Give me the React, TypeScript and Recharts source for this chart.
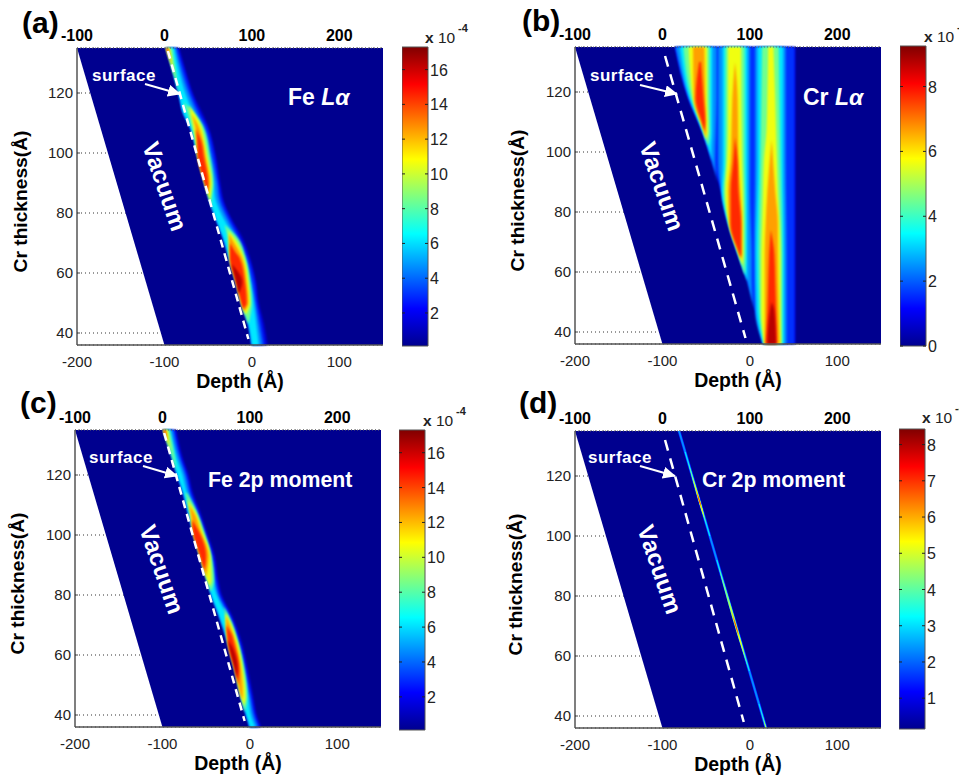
import React from 'react';
import { ComposedChart, BarChart, Area, Bar, XAxis, YAxis, CartesianGrid, ReferenceLine } from 'recharts';

const FONT = '"Liberation Sans", Arial, sans-serif';
// contour colours, low to high
const LEVELS = ['#0000d8', '#0030ff', '#0090ff', '#00e8ff', '#70ff90', '#f0ff10', '#ffa000', '#ff2800', '#b80000'];
const BG = '#00008f';
const JET = [[0, '#00008f'], [0.125, '#0000ff'], [0.375, '#00ffff'], [0.625, '#ffff00'], [0.875, '#ff0000'], [1, '#800000']];

const bottomTicks = [-200, -100, 0, 100];
const topTicks = [-100, 0, 100, 200];
const thicknessTicks = [40, 60, 80, 100, 120];
const sampleEdge = [[135, -200, 150], [36, -100, 150]];

const zip = (rows, lefts, rights) => rows.map((t, i) => [t, lefts[i], rights[i]]);

// (a) Fe L-alpha: thickness rows, ridge left edge, right edges per contour
const feLaRows = [135, 127, 119, 113, 109, 99, 90, 84, 78, 72, 65, 57, 50, 43, 36];
const feLaLeft = [-98, -90, -83, -78, -71, -62, -54, -48, -41, -33, -26, -18, -12, -4, 0];
const feLaR0 = [-83, -75, -66, -56, -50, -41, -36, -32, -23, -11, -2, 5, 8, 14, 18];
const feLaR1 = [-85, -77, -68, -59, -52, -43, -38, -34, -25, -14, -4, 3, 6, 11, 15];
const feLaR2 = [-87, -80, -71, -62, -55, -46, -40, -37, -28, -17, -7, 0, 4, 8, 12];
const feLaR3 = [-89, -83, -75, -66, -58, -49, -44, -41, -32, -20, -9, -2, 2, 5, 8];
const feLaBands = [
  [0, zip(feLaRows, feLaLeft, feLaR0)], [1, zip(feLaRows, feLaLeft, feLaR1)],
  [2, zip(feLaRows, feLaLeft, feLaR2)], [3, zip(feLaRows, feLaLeft, feLaR3)],
  [4, [[135, -98, -91], [127, -90, -87], [119, -83, -83]]],
  [4, [[117, -78, -78], [109, -69, -56], [99, -62, -48], [90, -54, -44], [84, -48, -46], [80, -44, -44]]],
  [4, [[76, -31, -31], [72, -28, -17], [65, -26, -7], [57, -18, -2], [50, -12, 0], [47, -9, -1], [43, -4, -4]]],
  [5, [[135, -98, -94], [125, -88, -88]]],
  [5, [[116, -72, -72], [109, -67, -58], [104, -64, -54], [99, -62, -51], [90, -54, -46], [84, -48, -48]]],
  [5, [[74, -27, -27], [72, -26, -21], [65, -25, -9], [57, -18, -4], [50, -12, -2], [46, -7, -7]]],
  [6, [[135, -98, -95.5], [129, -92, -92]]],
  [6, [[113, -69, -69], [109, -65, -61], [104, -63, -56], [99, -62, -53], [90, -54, -48], [86, -50, -50]]],
  [6, [[73, -26, -26], [71, -26, -22], [65, -25, -11], [57, -18, -6], [50, -12, -4], [47, -9, -9]]],
  [7, [[135, -98, -96.5], [131, -94, -94]]],
  [7, [[108, -64, -64], [104, -62.5, -58], [99, -62, -55], [90, -54, -50], [87, -51, -51]]],
  [7, [[70, -25, -25], [67, -25, -19], [65, -25, -14], [57, -18, -8], [50, -12, -6], [48, -10, -10]]],
  [8, [[63, -23, -23], [57, -18, -11], [53, -15, -15]]],
];

// (b) Cr L-alpha
const crLaRows = [135, 118, 107, 97, 87, 76, 66, 57, 47, 36];
const crLaEdge = [-86, -71, -55, -44, -33, -25, -14, -3, 6, 15];
const crLaOuter0 = [52, 52, 52, 52, 52, 52, 52, 52, 52, 52];
const crLaOuter1 = [51, 51, 51, 51, 51, 51, 51, 51, 51, 51];
const crLaBands = [
  [0, zip(crLaRows, crLaEdge, crLaOuter0)],
  [1, zip(crLaRows, crLaEdge.map((v) => v + 1), crLaOuter1)],
  // third stripe
  [2, [[135, 6, 41], [97, 6, 41], [66, 5, 42], [47, 6, 42], [36, 15, 42]]],
  [3, [[135, 9, 38], [97, 9, 38], [66, 7, 39], [47, 8, 39], [36, 15.5, 39]]],
  [4, [[135, 14, 33], [97, 12, 35], [66, 10, 37], [47, 11, 37], [36, 16, 37]]],
  [5, [[135, 21, 27], [118, 20, 29], [107, 19, 30], [97, 16, 31], [87, 15, 32], [76, 14, 34], [66, 13, 35], [47, 13, 35], [36, 16.5, 35.5]]],
  [6, [[104, 25, 25], [87, 20, 29], [76, 18, 32], [66, 17, 32], [47, 17, 33], [36, 17, 34]]],
  [7, [[74, 24, 24], [66, 22, 28], [57, 21, 29], [47, 20, 30], [36, 18, 31]]],
  [8, [[50, 25, 25], [47, 23, 28], [36, 20, 30]]],
  // second stripe
  [2, [[135, -36, 0], [97, -36, 0], [87, -33, 0], [76, -25, 1], [66, -14, 2], [57, -3, 2], [52, 1, 3], [47, 6, 6]]],
  [3, [[135, -31, -3], [97, -31, -3], [87, -32, -3], [76, -24.5, -3], [66, -13.5, -3], [57, -3, -3]]],
  [4, [[135, -28, -6], [97, -28, -6], [87, -30, -5.5], [76, -24, -5], [66, -13, -5], [60, -7, -5.5], [59, -6, -6]]],
  [5, [[135, -25, -10], [118, -25, -10], [107, -25, -9.5], [97, -26, -9], [87, -28, -8], [76, -24, -7.5], [66, -13, -7.5], [62, -8.5, -8.5]]],
  [6, [[130, -17, -17], [118, -20, -14], [107, -21, -13.5], [97, -22, -13], [87, -25, -11], [76, -23.5, -9], [66, -12.5, -9], [64, -10, -10]]],
  [7, [[105, -17, -17], [97, -19, -14], [87, -22, -13], [76, -22, -10], [66, -12, -10], [65, -11, -11]]],
  // first stripe
  [2, [[135, -85, -38], [118, -70, -38], [107, -54.5, -39], [97, -43.5, -40], [90, -37, -37]]],
  [3, [[135, -80, -43], [118, -69, -43], [107, -54, -43], [100, -46, -44], [97, -43, -43]]],
  [4, [[135, -76, -46], [118, -67, -46], [107, -53.5, -45.5], [102, -47.5, -47.5]]],
  [5, [[135, -70, -49], [118, -65, -49], [107, -53, -48], [104, -50, -50]]],
  [6, [[135, -65, -52], [118, -64, -51], [107, -52.5, -50], [105, -51, -51]]],
  [7, [[130, -58, -56], [118, -62, -53], [110, -55, -51], [107, -52, -52]]],
];

// (c) Fe 2p moment
const fe2pRows = [135, 126, 120, 114, 108, 101, 93, 85, 80, 73, 64, 55, 46, 39, 36];
const fe2pLeft = [-99, -89, -83, -76, -71, -65, -57, -49, -44, -35, -25, -17, -10, -3, 0];
const fe2pR0 = [-84, -77, -70, -65, -57, -49, -40, -36, -32, -20, -9, -2, 4, 9, 13];
const fe2pR1 = [-86, -79, -72, -67, -59, -51, -42, -38, -34, -22, -11, -4, 2, 7, 11];
const fe2pR2 = [-88, -81, -74, -69, -61, -53, -44, -40, -36, -24, -13, -6, 0, 5, 9];
const fe2pR3 = [-91, -84, -77, -72, -63, -55, -46, -42, -38, -26, -15, -8, -2, 2, 6];
const fe2pBands = [
  [0, zip(fe2pRows, fe2pLeft, fe2pR0)], [1, zip(fe2pRows, fe2pLeft, fe2pR1)],
  [2, zip(fe2pRows, fe2pLeft, fe2pR2)], [3, zip(fe2pRows, fe2pLeft, fe2pR3)],
  [4, [[135, -99, -92], [126, -89, -86], [121, -84, -84]]],
  [4, [[114, -74, -72], [108, -68, -61], [101, -65, -52], [93, -57, -44], [85, -49, -41], [81, -45, -45]]],
  [4, [[76, -30, -30], [73, -28, -24], [64, -25, -13], [55, -17, -6], [46, -10, -3], [41, -6, -6]]],
  [5, [[135, -99, -94], [128, -91, -91]]],
  [5, [[112, -72, -72], [108, -69, -63], [101, -65, -54], [93, -57, -45], [85, -49, -44], [83, -46, -46]]],
  [5, [[74, -28, -28], [73, -28, -26], [64, -25, -14], [55, -17, -8], [46, -10, -5], [43, -7, -7]]],
  [6, [[135, -99, -96], [130, -93, -93]]],
  [6, [[110, -70, -70], [108, -68, -65], [101, -65, -56], [93, -57, -47], [86, -50, -50]]],
  [6, [[73, -27, -27], [70, -27, -23], [64, -25, -16], [55, -17, -10], [47, -11, -8], [45, -9, -9]]],
  [7, [[135, -99, -97], [132, -95, -95]]],
  [7, [[105, -66, -66], [101, -65, -58], [93, -57, -50], [88, -52, -52]]],
  [7, [[70, -27, -27], [67, -26, -21], [64, -25, -18], [55, -17, -12], [50, -13, -13]]],
  [8, [[65, -25, -25], [62, -23, -19], [55, -17, -14], [52, -15, -15]]],
];

// (d) Cr 2p moment
const cr2pBands = [
  [0, [[135, -82.8, -79.2], [36, 16.7, 20.3]]],
  [1, [[135, -82.5, -79.5], [36, 17, 20]]],
  [2, [[135, -82, -80], [36, 17.5, 19.5]]],
  [3, [[128, -74.6, -73.4], [100, -46.4, -45.2]]],
  [3, [[92, -38.4, -37.2], [55, -1.2, 0]]],
  [3, [[44, 10, 11], [36, 18, 19]]],
  [4, [[125, -71, -71], [118, -64.8, -63.2], [108, -54.8, -53.2], [104, -50, -50]]],
  [4, [[90, -36, -36], [84, -30.8, -29.2], [62, -8.8, -7.2], [56, -2, -2]]],
  [4, [[42, 12.5, 12.5], [36, 17.9, 19.1]]],
  [5, [[120, -66, -66], [115, -61.6, -60.4], [108, -54.6, -53.4], [106, -52, -52]]],
  [5, [[80, -26, -26], [72, -18.6, -17.4], [64, -10.6, -9.4], [60, -6, -6]]],
  [5, [[39, 15.5, 15.5], [36, 18.1, 18.9]]],
  [6, [[116, -62, -62], [112, -58.5, -57.5], [109, -55, -55]]],
  [6, [[75, -21, -21], [70, -16.5, -15.5], [66, -12, -12]]],
  [7, [[114, -60, -60], [111, -57.4, -56.6], [110, -56, -56]]],
  [7, [[73, -19, -19], [69, -15.4, -14.6], [67, -13, -13]]],
];

// colour bar ticks and ranges
const barTicksA = [2, 4, 6, 8, 10, 12, 14, 16];
const barTicksB = [0, 2, 4, 6, 8];
const barTicksD = [1, 2, 3, 4, 5, 6, 7, 8];
const barRangeA = [0.1, 17.3];
const barRangeB = [0, 9.25];
const barRangeD = [0.15, 8.43];

const surfaceA = [[-96, 134], [-4, 38]];
const surfaceB = [[-97, 132], [-5, 38]];
const surfaceC = [[-98, 134], [-6, 38]];
const surfaceD = [[-97, 132], [-7, 38]];

function buildTable(bands) {
  const all = [[-1, sampleEdge], ...bands];
  const ts = new Set();
  all.forEach(([, rows]) => rows.forEach((r) => ts.add(r[0])));
  const table = [...ts].sort((a, b) => b - a).map((t) => ({ t }));
  const byT = new Map(table.map((r) => [r.t, r]));
  all.forEach(([, rows], i) => rows.forEach(([t, l, r]) => { byT.get(t)['b' + i] = [l, r]; }));
  return table;
}

const PW = 306;
const PH = 297;
const YW = 70;
const TOPH = 30;
const BOTH = 50;

function Panel({ x, y, bands, surface, dash, blur, labelOffset }) {
  const table = buildTable(bands);
  return (
    <div style={{ position: 'absolute', left: x - YW, top: y - TOPH }}>
      <ComposedChart width={YW + PW + 10} height={TOPH + PH + BOTH} data={table} layout="vertical"
        margin={{ top: 0, right: 10, bottom: 0, left: 0 }} style={{ fontFamily: FONT }}>
        <CartesianGrid vertical={false} stroke="#333" strokeDasharray="1 3" />
        <XAxis type="number" domain={[-200, 150]} ticks={bottomTicks} interval={0} height={BOTH} orientation="bottom"
          tickLine={false} axisLine={{ stroke: '#555', strokeWidth: 1.5 }} tick={{ fontSize: 15, fill: '#222' }} tickMargin={5}
          label={{ value: 'Depth (Å)', position: 'insideBottom', offset: 7, dx: 10, style: { fontSize: 19.5, fontWeight: 700, fill: '#000' } }} />
        <XAxis xAxisId="top" type="number" domain={[-100, 250]} allowDataOverflow ticks={topTicks} interval={0} height={TOPH} orientation="top"
          tickLine={false} axisLine={{ stroke: '#666', strokeDasharray: '1 2' }} tick={{ fontSize: 16, fontWeight: 700, fill: '#000' }} tickMargin={1} />
        <YAxis type="number" dataKey="t" domain={[36, 135]} reversed ticks={thicknessTicks} interval={0} width={YW}
          tickLine={{ stroke: '#444' }} tickSize={-3} axisLine={{ stroke: '#555', strokeWidth: 1.5 }} tick={{ fontSize: 15, fill: '#222' }} tickMargin={7}
          label={{ value: 'Cr thickness(Å)', angle: -90, position: 'insideLeft', offset: labelOffset, dy: 5, style: { fontSize: 19.2, fontWeight: 700, fill: '#000', textAnchor: 'middle' } }} />
        <Area xAxisId="top" dataKey="b0" type="linear" fill="none" stroke="none" connectNulls dot={false} activeDot={false} isAnimationActive={false} />
        <Area dataKey="b0" type="linear" fill={BG} fillOpacity={1} stroke="none" connectNulls dot={false} activeDot={false} isAnimationActive={false} />
        {bands.map(([level], i) => (
          <Area key={i} dataKey={'b' + (i + 1)} type="monotone" fill={LEVELS[level]} fillOpacity={1} stroke="none" connectNulls
            dot={false} activeDot={false} isAnimationActive={false} className={blur} />
        ))}
        <ReferenceLine segment={[{ x: surface[0][0], y: surface[0][1] }, { x: surface[1][0], y: surface[1][1] }]}
          stroke="#fff" strokeWidth={2.5} strokeDasharray={dash} />
      </ComposedChart>
    </div>
  );
}

const PAD = 10;

function ColorBar({ x, y, h, id, ticks, range }) {
  const W = 26;
  const data = [{ name: 'scale', range }];
  return (
    <div style={{ position: 'absolute', left: x, top: y - PAD }}>
      <BarChart width={W + 34} height={h + 2 * PAD} data={data} barCategoryGap={0} margin={{ top: PAD, right: 0, bottom: PAD, left: 0 }} style={{ fontFamily: FONT }}>
        <defs>
          <linearGradient id={id} x1="0" y1="1" x2="0" y2="0">
            {JET.map(([o, c]) => <stop key={o} offset={o} stopColor={c} />)}
          </linearGradient>
        </defs>
        <XAxis dataKey="name" hide />
        <YAxis type="number" domain={range} ticks={ticks} interval={0} orientation="right" width={34} tickLine={false} axisLine={false} tickSize={0} tickMargin={0}
          tick={(p) => (
            <g>
              <line x1={p.x - W} x2={p.x - W + 3} y1={p.y} y2={p.y} stroke="#222" />
              <line x1={p.x - 3} x2={p.x} y1={p.y} y2={p.y} stroke="#222" />
              <text x={p.x + 2} y={p.y + 6} fontSize={16} fill="#222">{p.payload.value}</text>
            </g>
          )} />
        <Bar dataKey="range" fill={`url(#${id})`} stroke="#555" strokeWidth={1} isAnimationActive={false} />
      </BarChart>
    </div>
  );
}

function Note({ panel, px, py, surfX, surfY, ax1, ay1, ax2, ay2, vx, vy, tx, ty, t1, t2, big }) {
  return (
    <g fontFamily={FONT} fontWeight={700}>
      <text x={px} y={py} fontSize={30} fill="#000">{panel}</text>
      <text x={surfX} y={surfY} fontSize={17} letterSpacing={0.5} fill="#fff">surface</text>
      <line x1={ax1} y1={ay1} x2={ax2} y2={ay2} stroke="#fff" strokeWidth={2} markerEnd="url(#arrowHead)" />
      <text x={vx} y={vy} fontSize={24} fill="#fff" textAnchor="middle" dominantBaseline="middle" transform={`rotate(71 ${vx} ${vy})`}>Vacuum</text>
      <text x={tx} y={ty} fontSize={big ? 23 : 21.3} fill="#fff">{t1}{t2 ? <tspan fontStyle="italic">{t2}</tspan> : null}</text>
    </g>
  );
}

function Exponent({ x, y }) {
  return (
    <g fontFamily={FONT} fill="#222">
      <text x={x} y={y} fontSize={15.5}><tspan fontWeight={700}>x</tspan> 10</text>
      <text x={x + 33} y={y - 11} fontSize={11} fontWeight={700}>-4</text>
    </g>
  );
}

export default function App() {
  return (
    <div style={{ position: 'absolute', left: 0, top: 0, width: 959, height: 776, overflow: 'hidden', background: '#fff' }}>
      <style>{`.soft{filter:blur(0.8px)} .soft-fine{filter:blur(0.25px)}`}</style>
      <Panel x={77} y={48} bands={feLaBands} surface={surfaceA} dash="8 6" blur="soft" labelOffset={13} />
      <Panel x={575} y={47} bands={crLaBands} surface={surfaceB} dash="11 8" blur="soft" labelOffset={12} />
      <Panel x={75} y={430} bands={fe2pBands} surface={surfaceC} dash="8 6" blur="soft" labelOffset={12} />
      <Panel x={575} y={431} bands={cr2pBands} surface={surfaceD} dash="11 8" blur="soft-fine" labelOffset={10} />
      <ColorBar x={402} y={47} h={299} id="jetA" ticks={barTicksA} range={barRangeA} />
      <ColorBar x={900} y={46} h={300} id="jetB" ticks={barTicksB} range={barRangeB} />
      <ColorBar x={399} y={430} h={300} id="jetC" ticks={barTicksA} range={barRangeA} />
      <ColorBar x={899} y={429} h={300} id="jetD" ticks={barTicksD} range={barRangeD} />
      <svg width={959} height={776} style={{ position: 'absolute', left: 0, top: 0, pointerEvents: 'none' }}>
        <defs>
          <marker id="arrowHead" markerUnits="userSpaceOnUse" markerWidth={14} markerHeight={12} refX={12} refY={6} orient="auto">
            <path d="M0 0 L13 6 L0 12 Z" fill="#fff" />
          </marker>
        </defs>
        <Note panel="(a)" px={22} py={33} surfX={92} surfY={81} ax1={145} ay1={84} ax2={180} ay2={94} vx={163} vy={187} tx={288} ty={105} t1="Fe " t2="Lα" big />
        <Note panel="(b)" px={522} py={31} surfX={590} surfY={81} ax1={640} ay1={85} ax2={677} ay2={94} vx={660} vy={187} tx={803} ty={105} t1="Cr " t2="Lα" big />
        <Note panel="(c)" px={20} py={413} surfX={89} surfY={463} ax1={143} ay1={466} ax2={177} ay2={476} vx={160} vy={570} tx={208} ty={487} t1="Fe 2p moment" />
        <Note panel="(d)" px={519} py={413} surfX={588} surfY={463} ax1={640} ay1={466} ax2={675} ay2={476} vx={658} vy={570} tx={702} ty={487} t1="Cr 2p moment" />
        <Exponent x={425} y={43} />
        <Exponent x={924} y={42} />
        <Exponent x={423} y={426} />
        <Exponent x={922} y={423} />
      </svg>
    </div>
  );
}
